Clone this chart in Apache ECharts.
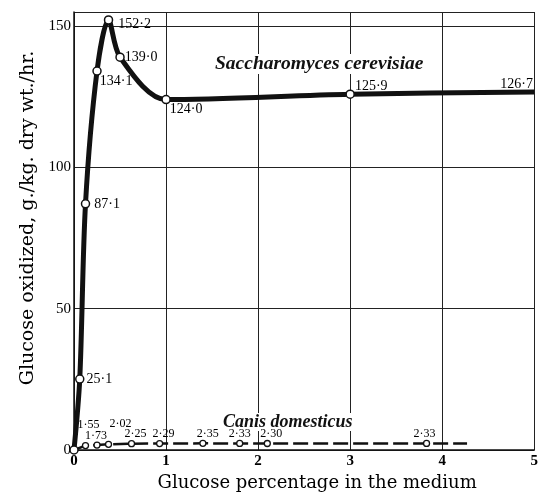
<!DOCTYPE html>
<html>
<head>
<meta charset="utf-8">
<script src="https://cdn.jsdelivr.net/npm/echarts@6/dist/echarts.min.js"></script>
<style>
html,body{margin:0;padding:0;background:#fff;}
#chart{width:541px;height:501px;}
</style>
</head>
<body>
<div id="chart"></div>
<script>
// ---- data ----
const yeastX = [0, 0.0625, 0.125, 0.25, 0.375, 0.5, 1, 3, 5];
const yeastY = [0, 25.1, 87.1, 134.1, 152.2, 139.0, 124.0, 125.9, 126.7];
const dogX = [0, 0.125, 0.25, 0.375, 0.625, 0.93, 1.4, 1.8, 2.1, 3.83, 4.27];
const dogY = [0, 1.55, 1.73, 2.02, 2.25, 2.29, 2.35, 2.33, 2.30, 2.33, 2.33];
const xTicks = [0, 1, 2, 3, 4, 5];
const yTicks = [0, 50, 100, 150];
const yeastName = 'Saccharomyces cerevisiae';
const dogName = 'Canis domesticus';
const xTitle = 'Glucose percentage in the medium';
const yTitle = 'Glucose oxidized, g./kg. dry wt./hr.';

// ---- layout / style ----
const yeastLabelShift = [null, [2,0], [4,0], [-2,10], [5,4], [0,0], [-1,10], [0,-8], [-34,-8]];
const dogLabelShift = [null, [3,-11], [-1,0], [12,-11], [4,0], [4,0], [5,0], [0,0], [4,0], [-2,0], null];
const fmt = (v, d) => v.toFixed(d).replace('.', '\u00B7');

const yeastData = yeastX.map((x, i) => {
  const o = { value: [x, yeastY[i]] };
  if (yeastLabelShift[i]) {
    o.label = { show: true, position: 'right', distance: 0, offset: yeastLabelShift[i], formatter: fmt(yeastY[i], 1) };
  }
  return o;
});
const dogData = dogX.map((x, i) => {
  const o = { value: [x, dogY[i]] };
  if (dogLabelShift[i]) {
    o.label = { show: true, position: 'top', distance: 0, offset: dogLabelShift[i], formatter: fmt(dogY[i], 2) };
  }
  return o;
});

const chart = echarts.init(document.getElementById('chart'), null, { renderer: 'canvas' });
const serif = "'Liberation Serif', 'DejaVu Serif', serif";
const wide = "'DejaVu Serif', serif";
chart.setOption({
  animation: false,
  backgroundColor: '#fff',
  grid: { left: 74, right: 0, top: 12, bottom: 51 },
  xAxis: {
    type: 'value', min: xTicks[0], max: xTicks[xTicks.length - 1], interval: 1,
    name: xTitle, nameLocation: 'middle', nameGap: 23,
    nameTextStyle: { fontFamily: wide, fontSize: 18, color: '#000', padding: [0, 0, 0, 26] },
    axisLine: { lineStyle: { color: '#111', width: 1.5 } },
    axisTick: { show: false },
    axisLabel: { color: '#000', fontFamily: serif, fontWeight: 'bold', fontSize: 15, margin: 4 },
    splitLine: { show: true, lineStyle: { color: '#222', width: 1 } }
  },
  yAxis: {
    type: 'value', min: yTicks[0], max: 155, interval: 50,
    name: yTitle, nameLocation: 'middle', nameGap: 34,
    nameTextStyle: { fontFamily: wide, fontSize: 19, color: '#000', padding: [0, 0, 0, 26] },
    axisLine: { show: true, lineStyle: { color: '#111', width: 1.5 } },
    axisTick: { show: false },
    axisLabel: { color: '#000', fontFamily: serif, fontSize: 15, margin: 3,
      formatter: v => (yTicks.indexOf(v) >= 0 ? String(v) : '') },
    splitLine: { show: true, lineStyle: { color: '#222', width: 1 } }
  },
  series: [
    {
      type: 'line', name: dogName, data: dogData, z: 3,
      symbol: 'circle',
      symbolSize: (v, p) => (p.dataIndex === 0 || p.dataIndex === dogX.length - 1) ? 0 : 6,
      itemStyle: { color: '#fff', borderColor: '#111', borderWidth: 1.3 },
      lineStyle: { color: '#111', width: 2.5, type: [15, 5] },
      label: { color: '#000', fontFamily: serif, fontSize: 12 }
    },
    {
      type: 'line', name: yeastName, data: yeastData, z: 4,
      smooth: 0.3,
      symbol: 'circle',
      symbolSize: (v, p) => p.dataIndex === yeastX.length - 1 ? 0 : 8,
      itemStyle: { color: '#fff', borderColor: '#111', borderWidth: 1.5 },
      lineStyle: { color: '#111', width: 5 },
      label: { color: '#000', fontFamily: serif, fontSize: 14 }
    }
  ],
  graphic: [
    { type: 'text', left: 213, top: 54, z: 2,
      style: { text: yeastName, font: "italic bold 19.5px 'Liberation Serif', serif", fill: '#111',
        backgroundColor: '#fff', padding: [0, 2] } },
    { type: 'text', left: 221, top: 413, z: 2,
      style: { text: dogName, font: "italic bold 18px 'Liberation Serif', serif", fill: '#111',
        backgroundColor: '#fff', padding: [0, 2] } }
  ]
});
</script>
</body>
</html>
